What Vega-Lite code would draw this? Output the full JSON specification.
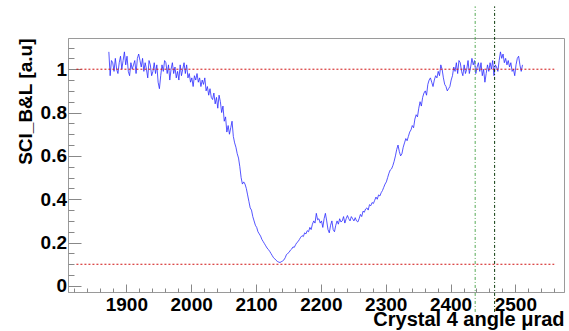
{
  "$schema": "https://vega.github.io/schema/vega-lite/v6.json",
  "width": 496,
  "height": 254,
  "autosize": {"type": "none"},
  "padding": {"left": 68, "top": 38, "right": 5, "bottom": 39},
  "background": "white",
  "config": {
    "view": {"stroke": "#9a9a9a", "strokeWidth": 1},
    "font": "Liberation Sans"
  },
  "resolve": {"axis": {"x": "independent", "y": "independent"}},
  "datasets": {
    "curve": [
      {"angle":1873,"sci":1.08},{"angle":1875,"sci":0.97},{"angle":1877,"sci":1.04},{"angle":1879,"sci":1.03},{"angle":1881,"sci":0.99},{"angle":1883,"sci":1.05},{"angle":1885,"sci":1.0},{"angle":1887,"sci":0.98},{"angle":1889,"sci":1.03},{"angle":1891,"sci":1.06},{"angle":1893,"sci":1.0},{"angle":1895,"sci":1.04},{"angle":1897,"sci":1.08},{"angle":1899,"sci":1.02},{"angle":1901,"sci":1.06},{"angle":1903,"sci":0.99},{"angle":1905,"sci":0.97},{"angle":1907,"sci":1.03},{"angle":1909,"sci":1.0},{"angle":1911,"sci":1.02},{"angle":1913,"sci":1.04},{"angle":1915,"sci":0.98},{"angle":1917,"sci":1.05},{"angle":1919,"sci":1.07},{"angle":1921,"sci":1.04},{"angle":1923,"sci":1.01},{"angle":1925,"sci":1.05},{"angle":1927,"sci":0.99},{"angle":1929,"sci":1.03},{"angle":1931,"sci":1.0},{"angle":1933,"sci":0.96},{"angle":1935,"sci":1.04},{"angle":1937,"sci":1.02},{"angle":1939,"sci":0.97},{"angle":1941,"sci":0.99},{"angle":1943,"sci":1.03},{"angle":1945,"sci":0.98},{"angle":1947,"sci":1.02},{"angle":1949,"sci":0.94},{"angle":1951,"sci":0.91},{"angle":1953,"sci":0.97},{"angle":1955,"sci":1.02},{"angle":1957,"sci":0.99},{"angle":1959,"sci":1.04},{"angle":1961,"sci":1.03},{"angle":1963,"sci":0.98},{"angle":1965,"sci":1.02},{"angle":1967,"sci":0.95},{"angle":1969,"sci":1.0},{"angle":1971,"sci":1.03},{"angle":1973,"sci":0.98},{"angle":1975,"sci":1.01},{"angle":1977,"sci":0.96},{"angle":1979,"sci":0.99},{"angle":1981,"sci":0.95},{"angle":1983,"sci":1.02},{"angle":1985,"sci":0.97},{"angle":1987,"sci":1.0},{"angle":1989,"sci":1.03},{"angle":1991,"sci":0.98},{"angle":1993,"sci":1.02},{"angle":1995,"sci":0.96},{"angle":1997,"sci":0.98},{"angle":1999,"sci":0.94},
      {"angle":2001,"sci":0.96},{"angle":2003,"sci":0.92},{"angle":2005,"sci":0.97},{"angle":2007,"sci":0.95},{"angle":2009,"sci":0.98},{"angle":2011,"sci":0.94},{"angle":2013,"sci":0.96},{"angle":2015,"sci":0.92},{"angle":2017,"sci":0.95},{"angle":2019,"sci":0.93},{"angle":2021,"sci":0.96},{"angle":2023,"sci":0.9},{"angle":2025,"sci":0.92},{"angle":2027,"sci":0.88},{"angle":2029,"sci":0.91},{"angle":2031,"sci":0.87},{"angle":2033,"sci":0.86},{"angle":2035,"sci":0.89},{"angle":2037,"sci":0.84},{"angle":2039,"sci":0.87},{"angle":2041,"sci":0.82},{"angle":2043,"sci":0.88},{"angle":2045,"sci":0.85},{"angle":2047,"sci":0.8},{"angle":2049,"sci":0.83},{"angle":2051,"sci":0.76},{"angle":2053,"sci":0.78},{"angle":2055,"sci":0.71},{"angle":2057,"sci":0.74},{"angle":2059,"sci":0.7},{"angle":2061,"sci":0.73},{"angle":2063,"sci":0.76},{"angle":2065,"sci":0.69},{"angle":2067,"sci":0.66},{"angle":2069,"sci":0.64},{"angle":2071,"sci":0.61},{"angle":2073,"sci":0.59},{"angle":2075,"sci":0.55},{"angle":2077,"sci":0.5},{"angle":2079,"sci":0.47},{"angle":2081,"sci":0.48},{"angle":2083,"sci":0.47},{"angle":2085,"sci":0.45},{"angle":2087,"sci":0.42},{"angle":2089,"sci":0.39},{"angle":2091,"sci":0.36},{"angle":2093,"sci":0.35},{"angle":2095,"sci":0.32},{"angle":2097,"sci":0.3},{"angle":2099,"sci":0.28},
      {"angle":2101,"sci":0.27},{"angle":2103,"sci":0.25},{"angle":2105,"sci":0.24},{"angle":2107,"sci":0.23},{"angle":2109,"sci":0.215},{"angle":2111,"sci":0.205},{"angle":2113,"sci":0.195},{"angle":2115,"sci":0.185},{"angle":2117,"sci":0.175},{"angle":2119,"sci":0.168},{"angle":2121,"sci":0.16},{"angle":2123,"sci":0.15},{"angle":2125,"sci":0.14},{"angle":2127,"sci":0.13},{"angle":2129,"sci":0.125},{"angle":2131,"sci":0.118},{"angle":2133,"sci":0.113},{"angle":2135,"sci":0.11},{"angle":2137,"sci":0.108},{"angle":2139,"sci":0.112},{"angle":2141,"sci":0.115},{"angle":2143,"sci":0.12},{"angle":2145,"sci":0.13},{"angle":2147,"sci":0.145},{"angle":2149,"sci":0.15},{"angle":2151,"sci":0.155},{"angle":2153,"sci":0.165},{"angle":2155,"sci":0.17},{"angle":2157,"sci":0.18},{"angle":2159,"sci":0.178},{"angle":2161,"sci":0.19},{"angle":2163,"sci":0.2},{"angle":2165,"sci":0.205},{"angle":2167,"sci":0.215},{"angle":2169,"sci":0.225},{"angle":2171,"sci":0.232},{"angle":2173,"sci":0.228},{"angle":2175,"sci":0.245},{"angle":2177,"sci":0.24},{"angle":2179,"sci":0.255},{"angle":2181,"sci":0.25},{"angle":2183,"sci":0.27},{"angle":2185,"sci":0.26},{"angle":2187,"sci":0.285},{"angle":2189,"sci":0.3},{"angle":2191,"sci":0.29},{"angle":2193,"sci":0.335},{"angle":2195,"sci":0.305},{"angle":2197,"sci":0.31},{"angle":2199,"sci":0.29},
      {"angle":2201,"sci":0.3},{"angle":2203,"sci":0.27},{"angle":2205,"sci":0.31},{"angle":2207,"sci":0.335},{"angle":2209,"sci":0.3},{"angle":2211,"sci":0.26},{"angle":2213,"sci":0.245},{"angle":2215,"sci":0.28},{"angle":2217,"sci":0.3},{"angle":2219,"sci":0.26},{"angle":2221,"sci":0.25},{"angle":2223,"sci":0.28},{"angle":2225,"sci":0.3},{"angle":2227,"sci":0.285},{"angle":2229,"sci":0.31},{"angle":2231,"sci":0.295},{"angle":2233,"sci":0.3},{"angle":2235,"sci":0.32},{"angle":2237,"sci":0.29},{"angle":2239,"sci":0.31},{"angle":2241,"sci":0.325},{"angle":2243,"sci":0.31},{"angle":2245,"sci":0.3},{"angle":2247,"sci":0.32},{"angle":2249,"sci":0.31},{"angle":2251,"sci":0.3},{"angle":2253,"sci":0.315},{"angle":2255,"sci":0.3},{"angle":2257,"sci":0.295},{"angle":2259,"sci":0.31},{"angle":2261,"sci":0.33},{"angle":2263,"sci":0.32},{"angle":2265,"sci":0.345},{"angle":2267,"sci":0.34},{"angle":2269,"sci":0.355},{"angle":2271,"sci":0.36},{"angle":2273,"sci":0.35},{"angle":2275,"sci":0.375},{"angle":2277,"sci":0.37},{"angle":2279,"sci":0.385},{"angle":2281,"sci":0.38},{"angle":2283,"sci":0.395},{"angle":2285,"sci":0.41},{"angle":2287,"sci":0.4},{"angle":2289,"sci":0.42},{"angle":2291,"sci":0.415},{"angle":2293,"sci":0.43},{"angle":2295,"sci":0.44},{"angle":2297,"sci":0.455},{"angle":2299,"sci":0.47},
      {"angle":2301,"sci":0.48},{"angle":2303,"sci":0.5},{"angle":2305,"sci":0.52},{"angle":2307,"sci":0.535},{"angle":2309,"sci":0.54},{"angle":2311,"sci":0.555},{"angle":2313,"sci":0.575},{"angle":2315,"sci":0.6},{"angle":2317,"sci":0.63},{"angle":2319,"sci":0.65},{"angle":2321,"sci":0.62},{"angle":2323,"sci":0.6},{"angle":2325,"sci":0.61},{"angle":2327,"sci":0.64},{"angle":2329,"sci":0.66},{"angle":2331,"sci":0.68},{"angle":2333,"sci":0.67},{"angle":2335,"sci":0.69},{"angle":2337,"sci":0.71},{"angle":2339,"sci":0.72},{"angle":2341,"sci":0.74},{"angle":2343,"sci":0.73},{"angle":2345,"sci":0.77},{"angle":2347,"sci":0.79},{"angle":2349,"sci":0.78},{"angle":2351,"sci":0.82},{"angle":2353,"sci":0.85},{"angle":2355,"sci":0.83},{"angle":2357,"sci":0.87},{"angle":2359,"sci":0.89},{"angle":2361,"sci":0.9},{"angle":2363,"sci":0.88},{"angle":2365,"sci":0.93},{"angle":2367,"sci":0.95},{"angle":2369,"sci":0.96},{"angle":2371,"sci":0.94},{"angle":2373,"sci":0.92},{"angle":2375,"sci":0.95},{"angle":2377,"sci":0.97},{"angle":2379,"sci":0.96},{"angle":2381,"sci":0.99},{"angle":2383,"sci":0.97},{"angle":2385,"sci":1.02},{"angle":2387,"sci":1.0},{"angle":2389,"sci":0.96},{"angle":2391,"sci":0.93},{"angle":2393,"sci":0.92},{"angle":2395,"sci":0.9},{"angle":2397,"sci":0.91},{"angle":2399,"sci":0.92},
      {"angle":2401,"sci":0.95},{"angle":2403,"sci":0.97},{"angle":2405,"sci":1.01},{"angle":2407,"sci":0.99},{"angle":2409,"sci":1.03},{"angle":2411,"sci":0.98},{"angle":2413,"sci":1.04},{"angle":2415,"sci":1.03},{"angle":2417,"sci":0.99},{"angle":2419,"sci":0.97},{"angle":2421,"sci":1.02},{"angle":2423,"sci":0.98},{"angle":2425,"sci":1.0},{"angle":2427,"sci":1.04},{"angle":2429,"sci":0.98},{"angle":2431,"sci":1.01},{"angle":2433,"sci":1.05},{"angle":2435,"sci":1.02},{"angle":2437,"sci":1.04},{"angle":2439,"sci":0.98},{"angle":2441,"sci":1.01},{"angle":2443,"sci":1.03},{"angle":2445,"sci":0.99},{"angle":2447,"sci":1.03},{"angle":2449,"sci":0.97},{"angle":2451,"sci":1.0},{"angle":2453,"sci":0.94},{"angle":2455,"sci":0.98},{"angle":2457,"sci":1.02},{"angle":2459,"sci":0.99},{"angle":2461,"sci":1.03},{"angle":2463,"sci":1.0},{"angle":2465,"sci":1.04},{"angle":2467,"sci":0.97},{"angle":2469,"sci":1.02},{"angle":2471,"sci":1.01},{"angle":2473,"sci":0.99},{"angle":2475,"sci":1.04},{"angle":2477,"sci":1.08},{"angle":2479,"sci":1.05},{"angle":2481,"sci":1.07},{"angle":2483,"sci":1.03},{"angle":2485,"sci":1.05},{"angle":2487,"sci":1.02},{"angle":2489,"sci":1.04},{"angle":2491,"sci":1.01},{"angle":2493,"sci":1.03},{"angle":2495,"sci":0.99},{"angle":2497,"sci":1.0},{"angle":2499,"sci":0.97},{"angle":2501,"sci":1.02},{"angle":2503,"sci":1.05},{"angle":2505,"sci":1.06},{"angle":2507,"sci":1.02},{"angle":2509,"sci":0.99},{"angle":2511,"sci":1.02}
    ],
    "hlines": [
      {"level": 1, "from": 1823, "to": 2560},
      {"level": 0.1, "from": 1823, "to": 2560}
    ],
    "vlines": [
      {"pos": 2438, "low": -0.12, "high": 1.29, "kind": "green"},
      {"pos": 2468, "low": -0.12, "high": 1.29, "kind": "dark"}
    ]
  },
  "layer": [
    {
      "data": {"name": "curve"},
      "mark": {"type": "line", "stroke": "#2a2aff", "strokeWidth": 1, "opacity": 0.8, "interpolate": "linear"},
      "encoding": {
        "x": {
          "field": "angle", "type": "quantitative",
          "scale": {"domain": [1810, 2575], "nice": false, "zero": false},
          "axis": {
            "orient": "bottom",
            "title": "Crystal 4 angle μrad",
            "titleFont": "Liberation Sans", "titleFontSize": 20, "titleFontWeight": "bold", "titleColor": "black",
            "titleAlign": "right", "titleAnchor": "end", "titleX": 496, "titleY": 33, "titleBaseline": "alphabetic",
            "values": [1900,2000,2100,2200,2300,2400,2500],
            "format": "d",
            "labelFont": "Liberation Sans", "labelFontSize": 19, "labelFontWeight": "bold", "labelColor": "black",
            "labelPadding": 11, "labelFlush": false, "labelOverlap": false,
            "tickSize": -8,
            "tickColor": "#888888", "tickWidth": 1,
            "domainColor": "#9a9a9a", "grid": false
          }
        },
        "y": {
          "field": "sci", "type": "quantitative",
          "scale": {"domain": [-0.028, 1.144], "nice": false, "zero": false},
          "axis": {
            "orient": "left",
            "title": "SCI_B&L [a.u]",
            "titleFont": "Liberation Sans", "titleFontSize": 19, "titleFontWeight": "bold", "titleColor": "black",
            "titleAngle": -90, "titleAlign": "right", "titleAnchor": "end", "titleX": -37, "titleY": 0, "titleBaseline": "alphabetic",
            "values": [0,0.2,0.4,0.6,0.8,1],
            "format": ".1~f",
            "labelFont": "Liberation Sans", "labelFontSize": 19, "labelFontWeight": "bold", "labelColor": "black",
            "labelPadding": 14.5, "labelFlush": false, "labelOverlap": false,
            "tickSize": -13,
            "tickColor": "#888888", "tickWidth": 1,
            "domainColor": "#9a9a9a", "grid": false
          }
        }
      }
    },
    {
      "data": {"name": "hlines"},
      "mark": {"type": "rule", "stroke": "#d01010", "strokeWidth": 1, "strokeDash": [2, 2]},
      "encoding": {
        "y": {
          "field": "level", "type": "quantitative",
          "axis": {
            "orient": "left", "title": null, "labels": false, "domain": false, "grid": false,
            "values": [0,0.05,0.1,0.15,0.2,0.25,0.3,0.35,0.4,0.45,0.5,0.55,0.6,0.65,0.7,0.75,0.8,0.85,0.9,0.95,1,1.05,1.1],
            "tickSize": -6, "tickColor": "#888888", "tickWidth": 1
          }
        },
        "x": {
          "field": "from", "type": "quantitative",
          "axis": {
            "orient": "bottom", "title": null, "labels": false, "domain": false, "grid": false,
            "values": [1820,1840,1860,1880,1900,1920,1940,1960,1980,2000,2020,2040,2060,2080,2100,2120,2140,2160,2180,2200,2220,2240,2260,2280,2300,2320,2340,2360,2380,2400,2420,2440,2460,2480,2500,2520,2540,2560],
            "tickSize": -4, "tickColor": "#888888", "tickWidth": 1
          }
        },
        "x2": {"field": "to"}
      }
    },
    {
      "data": {"name": "vlines"},
      "mark": {"type": "rule", "strokeWidth": 1, "strokeDash": [3, 2, 1, 2], "clip": false},
      "encoding": {
        "x": {"field": "pos", "type": "quantitative", "axis": null},
        "y": {"field": "low", "type": "quantitative", "axis": null},
        "y2": {"field": "high"},
        "color": {"field": "kind", "type": "nominal", "scale": {"domain": ["green", "dark"], "range": ["#55aa55", "#0a3a0a"]}, "legend": null}
      }
    }
  ]
}
